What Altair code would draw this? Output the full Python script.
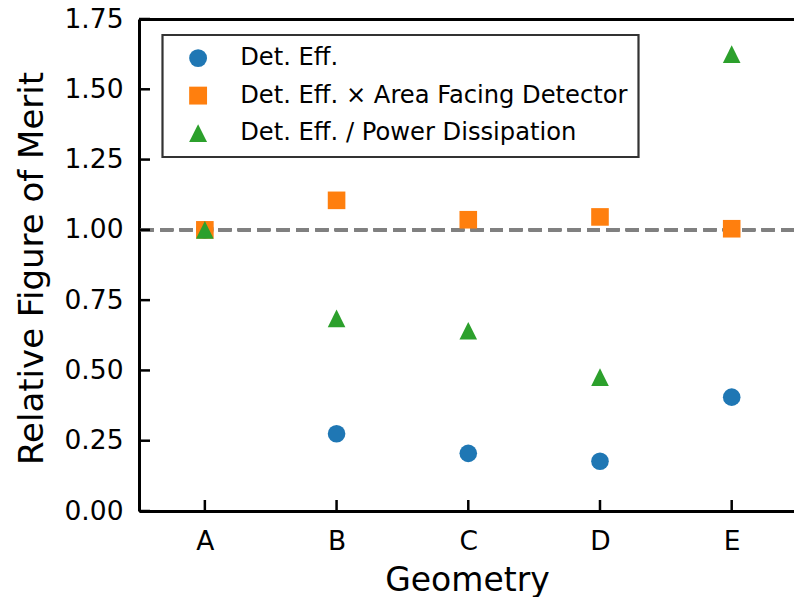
import json
import altair as alt
import pandas as pd

geometries = ["A", "B", "C", "D", "E"]
series_names = [
    "Det. Eff.",
    "Det. Eff. \u00d7 Area Facing Detector",
    "Det. Eff. / Power Dissipation",
]
det_eff = [1.0, 0.275, 0.205, 0.177, 0.405]
det_eff_area = [1.0, 1.105, 1.036, 1.046, 1.004]
det_eff_power = [1.0, 0.685, 0.641, 0.476, 1.625]
colors = ["#1f77b4", "#ff7f0e", "#2ca02c"]
shapes = ["circle", "square", "M0,-1L-1,1L1,1Z"]
y_ticks = [0.0, 0.25, 0.5, 0.75, 1.0, 1.25, 1.5, 1.75]
reference_value = 1.0

rows = []
for name, vals in zip(series_names, [det_eff, det_eff_area, det_eff_power]):
    for i, (g, v) in enumerate(zip(geometries, vals)):
        rows.append({"idx": i, "geometry": g, "series": name, "value": v})
df = pd.DataFrame(rows)

FONT = "DejaVu Sans"
W, H = 655, 492
TICK_LEN = 11
label_expr = json.dumps(geometries) + "[datum.value]"
x_tick_vals = list(range(len(geometries)))
x_min, x_max = -0.5, 4.473
y_min, y_max = 0.0, 1.75
# tick length expressed in data units of each scale
x_tick_len = TICK_LEN * (x_max - x_min) / W
y_tick_len = TICK_LEN * (y_max - y_min) / H

x_tick_df = pd.DataFrame({"idx": x_tick_vals, "y0": y_min, "y1": y_min + y_tick_len})
y_tick_df = pd.DataFrame({"value": y_ticks, "x0": x_min, "x1": x_min + x_tick_len})

x_scale = alt.Scale(domain=[x_min, x_max], nice=False, zero=False)
y_scale = alt.Scale(domain=[y_min, y_max], nice=False)

x_axis_bottom = alt.Axis(
    values=x_tick_vals,
    labelExpr=label_expr,
    title="Geometry",
    grid=False,
    ticks=False,
    domainColor="black",
    domainWidth=3,
    labelPadding=17.5,
    labelFontSize=26.5,
    labelFont=FONT,
    labelColor="black",
    titleFont=FONT,
    titleFontSize=33,
    titleFontWeight="normal",
    titleColor="black",
    titleX=328,
    titleY=79,
    titleBaseline="alphabetic",
    titleAnchor="middle",
)

y_axis_left = alt.Axis(
    values=y_ticks,
    format=".2f",
    title="Relative Figure of Merit",
    grid=False,
    ticks=False,
    domainColor="black",
    domainWidth=3,
    labelPadding=16,
    labelFontSize=26.5,
    labelFont=FONT,
    labelColor="black",
    titleFont=FONT,
    titleFontSize=34,
    titleFontWeight="normal",
    titleColor="black",
    titleAngle=270,
    titleX=-97,
    titleY=249,
    titleBaseline="alphabetic",
    titleAlign="center",
)

x_axis_top = alt.Axis(
    orient="top",
    labels=False,
    ticks=False,
    grid=False,
    title=None,
    domainColor="black",
    domainWidth=3,
)

base = alt.Chart(df)

ref_rule = base.mark_rule(
    color="#808080", strokeWidth=2.8, strokeDash=[13, 6.4]
).encode(y=alt.datum(reference_value, scale=y_scale, axis=None))

points = base.mark_point(filled=True, size=310, opacity=1).encode(
    x=alt.X("idx:Q", scale=x_scale, axis=x_axis_bottom),
    y=alt.Y("value:Q", scale=y_scale, axis=y_axis_left),
    color=alt.Color(
        "series:N",
        scale=alt.Scale(domain=series_names, range=colors),
        legend=alt.Legend(
            title=None,
            orient="none",
            legendX=23.5,
            legendY=16,
            padding=11,
            symbolOffset=12.5,
            labelOffset=30,
            rowPadding=12.5,
            symbolSize=320,
            labelFontSize=24.2,
            labelFont=FONT,
            labelColor="black",
            labelLimit=800,
            strokeColor="#333333",
            fillColor="white",
        ),
    ),
    shape=alt.Shape(
        "series:N", scale=alt.Scale(domain=series_names, range=shapes)
    ),
)

# inward-pointing tick marks along the bottom and left spines
x_ticks_layer = alt.Chart(x_tick_df).mark_rule(
    color="black", strokeWidth=2.5, opacity=1
).encode(
    x=alt.X("idx:Q", scale=x_scale, axis=None),
    y=alt.Y("y0:Q", scale=y_scale, axis=None),
    y2="y1:Q",
)
y_ticks_layer = alt.Chart(y_tick_df).mark_rule(
    color="black", strokeWidth=2.5, opacity=1
).encode(
    y=alt.Y("value:Q", scale=y_scale, axis=None),
    x=alt.X("x0:Q", scale=x_scale, axis=None),
    x2="x1:Q",
)

top_spine = base.mark_point(opacity=0).encode(
    x=alt.X("idx:Q", scale=x_scale, axis=x_axis_top),
    y=alt.Y("value:Q", scale=y_scale, axis=None),
)

chart = (
    alt.layer(ref_rule, x_ticks_layer, y_ticks_layer, points, top_spine)
    .resolve_axis(x="independent", y="independent")
    .properties(
        width=W,
        height=H,
        autosize=alt.AutoSizeParams(type="none"),
        padding={"left": 139, "top": 19, "right": 0, "bottom": 86},
        background="white",
    )
    .configure_view(stroke=None)
    .configure_legend(strokeWidth=2.2, symbolStrokeWidth=0)
)

chart.save("out.html", embed_options={"renderer": "svg", "actions": False})
